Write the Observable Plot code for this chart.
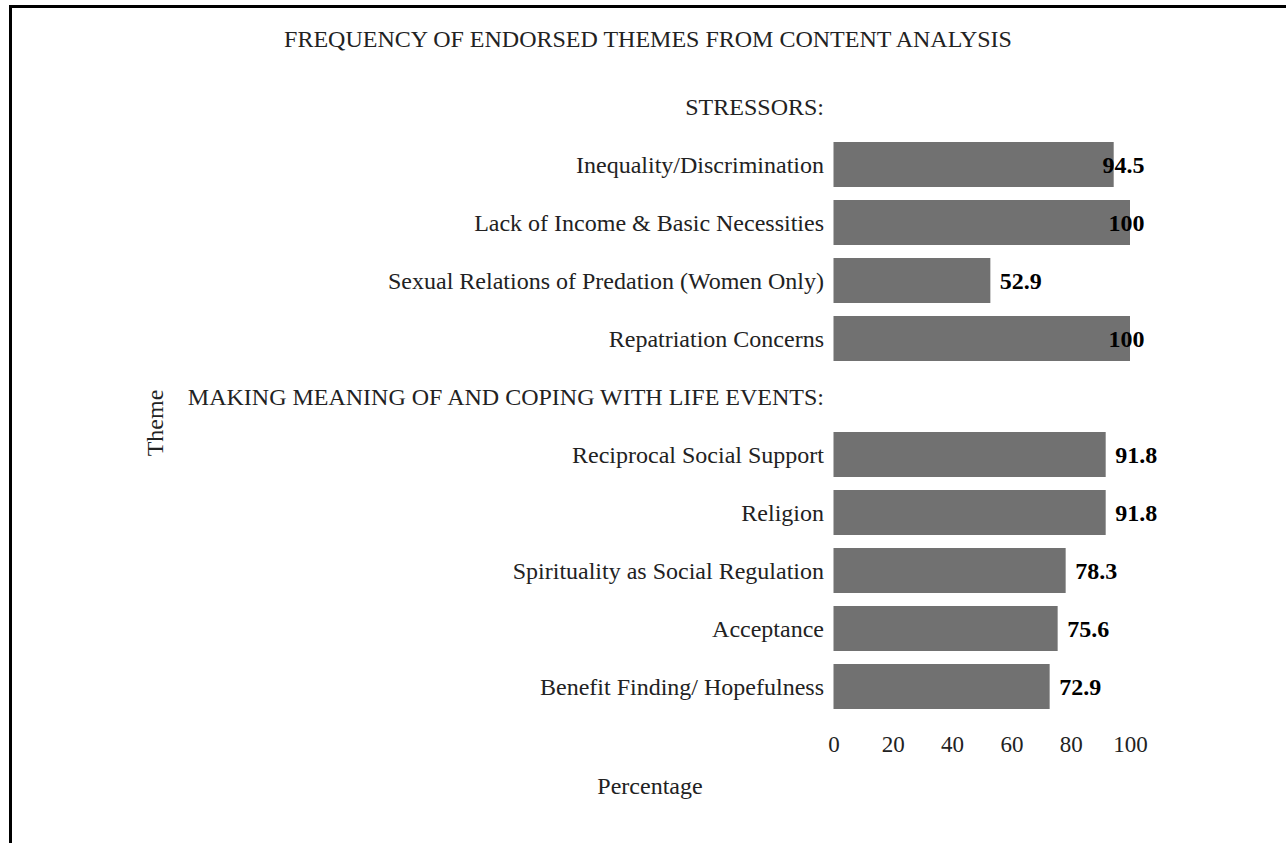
<!DOCTYPE html>
<html>
<head>
<meta charset="utf-8">
<script src="https://cdn.jsdelivr.net/npm/d3@7"></script>
<script src="https://cdn.jsdelivr.net/npm/@observablehq/plot@0.6"></script>
<style>
  html, body { margin: 0; padding: 0; background: #fff; }
  #page { position: relative; width: 1286px; height: 843px; overflow: hidden; background: #fff;
          font-family: "Liberation Serif", "Times New Roman", serif; color: #222; }
  #frame { position: absolute; left: 9px; top: 5px; width: 1400px; height: 1000px;
           border-left: 3px solid #000; border-top: 3px solid #000; }
  #title { position: absolute; left: 0; top: 26px; width: 1296px; text-align: center;
           font-size: 24px; line-height: 26px; white-space: nowrap; }
  #chart { position: absolute; left: 0; top: 60px; }
  #xlabel { position: absolute; left: 650px; top: 773px; transform: translateX(-50%);
            font-size: 24px; line-height: 26px; white-space: nowrap; }
  #ylabel { position: absolute; left: 155px; top: 423px; transform: translate(-50%, -50%) rotate(-90deg);
            font-size: 24px; line-height: 26px; white-space: nowrap; }
</style>
</head>
<body>
<div id="page">
  <div id="frame"></div>
  <div id="title">FREQUENCY OF ENDORSED THEMES FROM CONTENT ANALYSIS</div>
  <div id="chart"></div>
  <div id="xlabel">Percentage</div>
  <div id="ylabel">Theme</div>
</div>
<script>
const sections = ["STRESSORS:", "MAKING MEANING OF AND COPING WITH LIFE EVENTS:"];
const stressThemes = [
  "Inequality/Discrimination",
  "Lack of Income & Basic Necessities",
  "Sexual Relations of Predation (Women Only)",
  "Repatriation Concerns"
];
const stressValues = [94.5, 100, 52.9, 100];
const copingThemes = [
  "Reciprocal Social Support",
  "Religion",
  "Spirituality as Social Regulation",
  "Acceptance",
  "Benefit Finding/ Hopefulness"
];
const copingValues = [91.8, 91.8, 78.3, 75.6, 72.9];
const xTicks = [0, 20, 40, 60, 80, 100];

const domain = [sections[0], ...stressThemes, sections[1], ...copingThemes];
const data = [
  ...stressThemes.map((t, i) => ({theme: t, value: stressValues[i]})),
  ...copingThemes.map((t, i) => ({theme: t, value: copingValues[i]}))
];
const fmt = v => String(v);

const chart = Plot.plot({
  width: 1286,
  height: 783,
  marginLeft: 833.5,
  marginRight: 156,
  marginTop: 11,
  marginBottom: 120.3,
  style: {fontFamily: "'Liberation Serif', 'Times New Roman', serif", fontSize: "24px", color: "#222", background: "transparent", overflow: "visible"},
  x: {domain: [0, 100], label: null},
  y: {domain, padding: 0.224, label: null},
  marks: [
    Plot.barX(data, {x: "value", y: "theme", fill: "#717171"}),
    Plot.axisX({ticks: xTicks, tickSize: 0, tickPadding: 12, label: null, fontSize: 23, tickFormat: d => String(d)}),
    Plot.axisY({tickSize: 0, tickPadding: 10, label: null, fontSize: 24}),
    Plot.text(data.filter(d => d.value < 93), {
      x: "value", y: "theme", text: d => fmt(d.value), textAnchor: "start", dx: 9,
      fontWeight: "bold", fontSize: 24, fill: "#000"
    }),
    Plot.text(data.filter(d => d.value >= 93), {
      y: "theme", frameAnchor: "right", text: d => fmt(d.value), textAnchor: "end", dx: 14,
      fontWeight: "bold", fontSize: 24, fill: "#000"
    })
  ]
});
document.getElementById("chart").appendChild(chart);
</script>
</body>
</html>
